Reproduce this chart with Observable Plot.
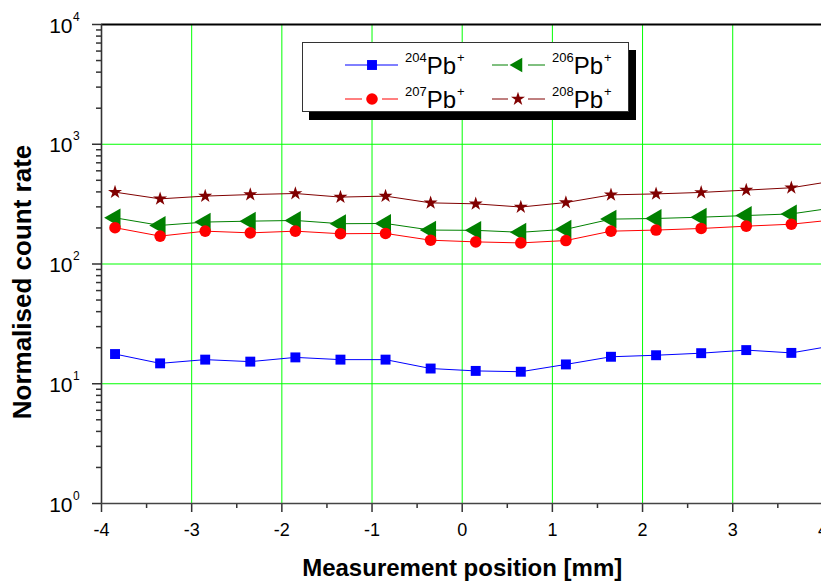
<!DOCTYPE html>
<html>
<head>
<meta charset="utf-8">
<script src="https://cdn.jsdelivr.net/npm/d3@7"></script>
<script src="https://cdn.jsdelivr.net/npm/@observablehq/plot@0.6"></script>
<style>
  html, body { margin: 0; padding: 0; overflow: hidden; background: #fff; }
  #wrap { position: relative; width: 821px; height: 581px; overflow: hidden; }
  #wrap > svg.plot { max-width: none !important; width: 840px; height: 581px; display: block; }
</style>
</head>
<body>
<div id="wrap"></div>
<script>
// ---- data ----
const positions = [-3.85, -3.35, -2.85, -2.35, -1.85, -1.35, -0.85, -0.35, 0.15, 0.65, 1.15, 1.65, 2.15, 2.65, 3.15, 3.65, 4.15];
const pb204 = [17.7, 14.8, 15.9, 15.3, 16.6, 15.9, 15.9, 13.4, 12.8, 12.6, 14.5, 16.8, 17.3, 18.0, 19.1, 18.1, 21];
const pb206 = [243, 210, 224, 228, 231, 217, 218, 192, 191, 184, 195, 237, 240, 246, 254, 262, 297];
const pb207 = [201, 171, 188, 182, 188, 179, 180, 158, 153, 150, 157, 188, 192, 198, 207, 215, 235];
const pb208 = [398, 350, 369, 380, 388, 362, 369, 324, 318, 299, 326, 378, 385, 396, 414, 433, 498];

const isotopes = ["204", "206", "207", "208"];
const xTicks = [-4, -3, -2, -1, 0, 1, 2, 3, 4];
const xMinor = [-3.5, -2.5, -1.5, -0.5, 0.5, 1.5, 2.5, 3.5];
const xGrid = [-3, -2, -1, 0, 1, 2, 3];
const yTicks = [1, 10, 100, 1000, 10000];
const yExponents = ["0", "1", "2", "3", "4"];
const yGrid = [10, 100, 1000];
const yMinorMantissas = [2, 3, 4, 5, 6, 7, 8, 9];
const yMinorDecades = [1, 10, 100, 1000];

const xTitle = "Measurement position [mm]";
const yTitle = "Normalised count rate";

// ---- styling ----
const FONT = "Liberation Sans, Arial, Helvetica, sans-serif";
const styles = [
  {values: pb204, color: "#0000ff", symbol: "square",   r: 5.6, rotate: 0},
  {values: pb206, color: "#008000", symbol: "triangle", r: 7.0, rotate: -90},
  {values: pb207, color: "#ff0000", symbol: "circle",   r: 5.8, rotate: 0},
  {values: pb208, color: "#800000", symbol: "star",     r: 4.4, rotate: 0}
];

const yMinor = yMinorDecades.flatMap(d => yMinorMantissas.map(m => m * d));

const seriesMarks = styles.flatMap((s, k) => {
  const rows = positions.map((x, i) => ({x, y: s.values[i], iso: isotopes[k]}));
  return [
    Plot.line(rows, {x: "x", y: "y", stroke: s.color, strokeWidth: 1, clip: true}),
    Plot.dot(rows, {x: "x", y: "y", symbol: s.symbol, r: s.r, fill: s.color, stroke: "none", rotate: s.rotate, clip: true})
  ];
});

const chart = Plot.plot({
  width: 840,
  height: 581,
  marginLeft: 101,
  marginRight: 17.6,
  marginTop: 24,
  marginBottom: 78,
  x: {domain: [-4, 4], label: null},
  y: {type: "log", domain: [1, 10000], label: null},
  style: {fontFamily: FONT, background: "white", color: "black", maxWidth: "none"},
  marks: [
    Plot.ruleX(xGrid, {stroke: "#00ff00", strokeWidth: 1}),
    Plot.ruleY(yGrid, {stroke: "#00ff00", strokeWidth: 1}),
    ...seriesMarks,
    Plot.axisX(xTicks, {tickSize: 9, tickPadding: 11, tickFormat: d => String(d), fontSize: 18, stroke: "#333", strokeWidth: 1.5, label: null}),
    Plot.axisX(xMinor, {tickSize: 5, tickFormat: () => "", stroke: "#333", strokeWidth: 1.5, label: null}),
    Plot.axisY(yTicks, {tickSize: 9, tickFormat: () => "", stroke: "#333", strokeWidth: 1.5, label: null}),
    Plot.axisY(yMinor, {tickSize: 5, tickFormat: () => "", stroke: "#333", strokeWidth: 1.5, label: null}),
    Plot.text(yTicks, {y: d => d, text: () => "10", frameAnchor: "left", textAnchor: "end", dx: -29, dy: 1.4, fontSize: 21}),
    Plot.text(yTicks, {y: d => d, text: (d, i) => yExponents[i], frameAnchor: "left", textAnchor: "start", dx: -28.5, dy: -7.6, fontSize: 12}),
    Plot.ruleY([10000], {stroke: "black", strokeWidth: 2}),
    Plot.ruleX([4], {stroke: "black", strokeWidth: 2}),
    Plot.ruleX([-4], {stroke: "#333", strokeWidth: 1.6}),
    Plot.ruleY([1], {stroke: "#444", strokeWidth: 1.6}),
    Plot.text([xTitle], {text: d => d, frameAnchor: "bottom", textAnchor: "middle", dy: 72, fontSize: 24, fontWeight: "bold"}),
    Plot.text([yTitle], {text: d => d, frameAnchor: "left", textAnchor: "middle", lineAnchor: "middle", rotate: -90, dx: -79, dy: 18, fontSize: 26, fontWeight: "bold"})
  ]
});

chart.style.maxWidth = "none";
chart.setAttribute("width", 840);
const wrap = document.getElementById("wrap");
wrap.appendChild(chart);

// ---- legend overlay ----
const lg = d3.select(wrap).append("svg")
  .attr("width", 821).attr("height", 140)
  .style("position", "absolute").style("left", "0px").style("top", "0px")
  .style("font-family", FONT);

lg.append("rect").attr("x", 309).attr("y", 50).attr("width", 327).attr("height", 70).attr("fill", "black");
lg.append("rect").attr("x", 302.5).attr("y", 42.5).attr("width", 326).attr("height", 69)
  .attr("fill", "white").attr("stroke", "#333").attr("stroke-width", 1);

const colX = [{x1: 345, x2: 398, mx: 372, tx: 405}, {x1: 492, x2: 545, mx: 518, tx: 552}];
const rowY = [65, 99];
const symbolTypes = {square: d3.symbolSquare, triangle: d3.symbolTriangle2, circle: d3.symbolCircle, star: d3.symbolStar};

styles.forEach((s, k) => {
  const c = colX[k % 2], y = rowY[Math.floor(k / 2)];
  const g = lg.append("g");
  if (k === 0) {
    g.append("line").attr("x1", c.x1).attr("x2", c.x2).attr("y1", y).attr("y2", y).attr("stroke", s.color).attr("stroke-width", 1);
  } else {
    g.append("line").attr("x1", c.x1).attr("x2", c.mx - 10).attr("y1", y).attr("y2", y).attr("stroke", s.color).attr("stroke-width", 1);
    g.append("line").attr("x1", c.mx + 10).attr("x2", c.x2).attr("y1", y).attr("y2", y).attr("stroke", s.color).attr("stroke-width", 1);
  }
  const path = d3.symbol(symbolTypes[s.symbol], Math.PI * s.r * s.r)();
  g.append("path").attr("d", path).attr("fill", s.color)
    .attr("transform", `translate(${c.mx},${y}) rotate(${s.rotate})`);
  const t = g.append("text").attr("x", c.tx).attr("y", y + 9).attr("fill", "black");
  t.append("tspan").attr("font-size", 13).attr("dy", -12.3).text(isotopes[k]);
  t.append("tspan").attr("font-size", 24).attr("dy", 12.3).text("Pb");
  t.append("tspan").attr("font-size", 13).attr("dy", -12.3).attr("dx", 1).text("+");
});
</script>
</body>
</html>
